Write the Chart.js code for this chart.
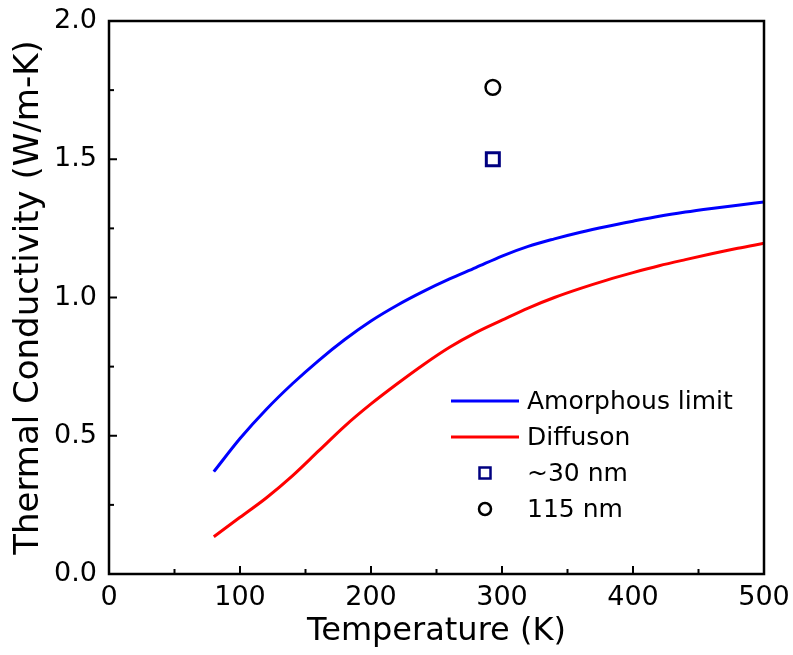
<!DOCTYPE html>
<html>
<head>
<meta charset="utf-8">
<script src="https://cdn.jsdelivr.net/npm/chart.js@4.4.0/dist/chart.umd.min.js"></script>
<style>
  html, body { margin: 0; padding: 0; background: #fff; }
  #wrap { width: 793px; height: 655px; }
</style>
</head>
<body>
<div id="wrap"><canvas id="kChart" width="793" height="655"></canvas></div>
<script>
// temperature grid (K) for the model curves
const temps = [80, 100, 120, 140, 160, 180, 200, 220, 240, 260, 280, 300, 320, 340, 360, 380, 400, 420, 440, 460, 480, 500];
const amorphousLimit = [0.37, 0.49, 0.595, 0.688, 0.772, 0.848, 0.915, 0.972, 1.022, 1.067, 1.108, 1.15, 1.185, 1.212, 1.236, 1.257, 1.276, 1.294, 1.309, 1.322, 1.334, 1.345];
const diffuson = [0.135, 0.205, 0.275, 0.355, 0.445, 0.535, 0.615, 0.688, 0.757, 0.82, 0.873, 0.918, 0.962, 1.0, 1.033, 1.063, 1.09, 1.115, 1.137, 1.158, 1.178, 1.196];
// measured films at room temperature
const film30nm = [{ x: 293, y: 1.50 }];
const film115nm = [{ x: 293, y: 1.76 }];
const seriesLabels = ['Amorphous limit', 'Diffuson', '~30 nm', '115 nm'];
const xTicks = [0, 100, 200, 300, 400, 500];
const yTicks = ['0.0', '0.5', '1.0', '1.5', '2.0'];

const FONT = '"DejaVu Sans", Arial, sans-serif';

// frame + inward ticks (major and minor)
const framePlugin = {
    id: 'frame',
    afterDraw(chart) {
        const { ctx, chartArea: a, scales } = chart;
        ctx.save();
        ctx.strokeStyle = '#000';
        ctx.lineWidth = 2.5;
        ctx.strokeRect(a.left, a.top, a.right - a.left, a.bottom - a.top);
        ctx.lineWidth = 2;
        scales.x.ticks.forEach(t => {
            const px = scales.x.getPixelForValue(t.value);
            const len = t.value % 100 === 0 ? 8 : 5;
            ctx.beginPath();
            ctx.moveTo(px, a.bottom);
            ctx.lineTo(px, a.bottom - len);
            ctx.stroke();
        });
        scales.y.ticks.forEach(t => {
            const py = scales.y.getPixelForValue(t.value);
            const major = Math.abs(t.value * 2 - Math.round(t.value * 2)) < 1e-6;
            ctx.beginPath();
            ctx.moveTo(a.left, py);
            ctx.lineTo(a.left + (major ? 8 : 5), py);
            ctx.stroke();
        });
        ctx.restore();
    }
};

// legend drawn inside the plot, using the dataset styles
const legendPlugin = {
    id: 'innerLegend',
    afterDraw(chart) {
        const { ctx } = chart;
        const x0 = 451, x1 = 519, tx = 527;
        let y = 401;
        ctx.save();
        ctx.font = '25px ' + FONT;
        ctx.textBaseline = 'middle';
        chart.data.datasets.forEach(ds => {
            if (ds.showLine) {
                ctx.strokeStyle = ds.borderColor;
                ctx.lineWidth = 3;
                ctx.beginPath();
                ctx.moveTo(x0, y);
                ctx.lineTo(x1, y);
                ctx.stroke();
            } else {
                ctx.strokeStyle = ds.pointBorderColor;
                ctx.fillStyle = '#fff';
                ctx.lineWidth = 2.5;
                const cx = (x0 + x1) / 2;
                ctx.beginPath();
                if (ds.pointStyle === 'rect') {
                    ctx.rect(cx - 5.5, y - 5.5, 11, 11);
                } else {
                    ctx.arc(cx, y, 6, 0, Math.PI * 2);
                }
                ctx.fill();
                ctx.stroke();
            }
            ctx.fillStyle = '#000';
            ctx.fillText(ds.label, tx, y + 1);
            y += 36;
        });
        ctx.restore();
    }
};

const ctx = document.getElementById('kChart').getContext('2d');
new Chart(ctx, {
    type: 'scatter',
    data: {
        datasets: [
            {
                label: seriesLabels[0],
                data: temps.map((t, i) => ({ x: t, y: amorphousLimit[i] })),
                showLine: true, borderColor: '#0000ff', borderWidth: 3,
                pointRadius: 0, cubicInterpolationMode: 'monotone'
            },
            {
                label: seriesLabels[1],
                data: temps.map((t, i) => ({ x: t, y: diffuson[i] })),
                showLine: true, borderColor: '#ff0000', borderWidth: 3,
                pointRadius: 0, cubicInterpolationMode: 'monotone'
            },
            {
                label: seriesLabels[2],
                data: film30nm,
                showLine: false, pointStyle: 'rect', pointRadius: 9.2,
                pointBorderColor: '#000080', pointBackgroundColor: '#ffffff', pointBorderWidth: 3
            },
            {
                label: seriesLabels[3],
                data: film115nm,
                showLine: false, pointStyle: 'circle', pointRadius: 7.3,
                pointBorderColor: '#000000', pointBackgroundColor: '#ffffff', pointBorderWidth: 2.5
            }
        ]
    },
    options: {
        responsive: false,
        animation: false,
        layout: { padding: { top: 21, right: 29, left: 0, bottom: 0 } },
        plugins: { legend: { display: false }, tooltip: { enabled: false } },
        scales: {
            x: {
                type: 'linear', min: 0, max: 500,
                afterFit(s) { s.height = 81; s.paddingLeft = 0; s.paddingRight = 0; },
                grid: { display: false, drawTicks: false },
                border: { display: false },
                ticks: {
                    stepSize: 50, padding: 8, color: '#000', maxRotation: 0, autoSkip: false,
                    font: { family: FONT, size: 27 },
                    callback: v => xTicks.includes(v) ? String(v) : ''
                },
                title: {
                    display: true, text: 'Temperature (K)', color: '#000',
                    font: { family: FONT, size: 32 }, padding: { top: 0, bottom: 4 }
                }
            },
            y: {
                type: 'linear', min: 0, max: 2,
                afterFit(s) { s.width = 109; s.paddingTop = 0; s.paddingBottom = 0; },
                grid: { display: false, drawTicks: false },
                border: { display: false },
                ticks: {
                    stepSize: 0.25, padding: 12, color: '#000', autoSkip: false,
                    font: { family: FONT, size: 27 },
                    callback: v => {
                        const s = v.toFixed(1);
                        return (Math.abs(v * 2 - Math.round(v * 2)) < 1e-6 && yTicks.includes(s)) ? s : '';
                    }
                },
                title: {
                    display: true, text: 'Thermal Conductivity (W/m-K)', color: '#000',
                    font: { family: FONT, size: 34 }, padding: { top: 9, bottom: 0 }
                }
            }
        }
    },
    plugins: [framePlugin, legendPlugin]
});
</script>
</body>
</html>
